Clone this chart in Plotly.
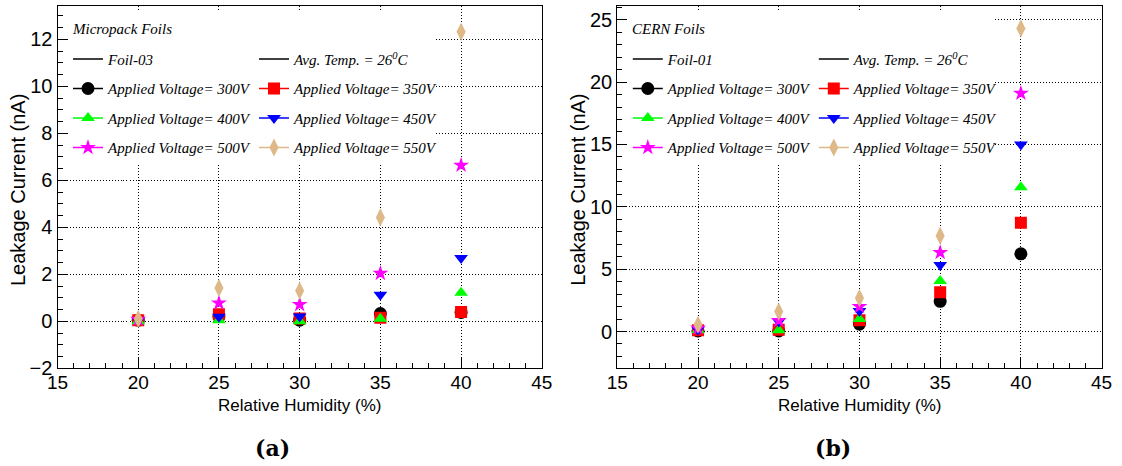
import plotly.graph_objects as go

# ---------------- data ----------------
humidity = [20, 25, 30, 35, 40]
voltage_labels = ["300V", "350V", "400V", "450V", "500V", "550V"]

# Panel (a): Micropack Foils (Foil-03), leakage current in nA
micropack_300v = [0.05, 0.20, 0.05, 0.33, 0.38]
micropack_350v = [0.05, 0.30, 0.12, 0.15, 0.40]
micropack_400v = [0.00, 0.05, 0.00, 0.11, 1.22]
micropack_450v = [0.05, 0.19, 0.20, 1.13, 2.69]
micropack_500v = [0.08, 0.78, 0.71, 2.04, 6.64]
micropack_550v = [0.10, 1.42, 1.30, 4.42, 12.32]

# Panel (b): CERN Foils (Foil-01), leakage current in nA
cern_300v = [0.05, 0.05, 0.60, 2.42, 6.23]
cern_350v = [0.10, 0.15, 0.90, 3.15, 8.73]
cern_400v = [0.10, 0.10, 1.00, 4.05, 11.57]
cern_450v = [0.15, 0.80, 1.65, 5.34, 15.00]
cern_500v = [0.27, 0.88, 2.00, 6.33, 19.10]
cern_550v = [0.54, 1.60, 2.68, 7.68, 24.30]

panel_titles = ["Micropack Foils", "CERN Foils"]
foil_names = ["Foil-03", "Foil-01"]
temperature_label = "Avg. Temp. = 26<sup>0</sup>C"
panel_tags = ["(a)", "(b)"]
x_title = "Relative Humidity (%)"
y_title = "Leakage Current (nA)"
x_range = [15, 45]
y_ranges = [[-2, 13.42], [-2.95, 26.1]]
y_dticks = [2, 5]
y_minor_dticks = [0.5, 1]

series = [
    [micropack_300v, micropack_350v, micropack_400v, micropack_450v, micropack_500v, micropack_550v],
    [cern_300v, cern_350v, cern_400v, cern_450v, cern_500v, cern_550v],
]

# ---------------- styles ----------------
colors = ["#000000", "#FF0000", "#00FF00", "#0000FF", "#FF00FF", "#DEB887"]
symbols = ["circle", "square", "triangle-up", "triangle-down", "star", "diamond-tall"]
sizes = [13, 12, 12, 12, 12, 13]

W, H = 1122, 466
panel_left = [57.5, 617.3]
panel_w = 484.3
plot_top, plot_bottom = 6.0, 368.3
plot_h = plot_bottom - plot_top

SANS = "Liberation Sans, Arial, sans-serif"
SERIF = "Liberation Serif, Times New Roman, serif"

fig = go.Figure()

for p in range(2):
    xa = "x" if p == 0 else "x2"
    ya = "y" if p == 0 else "y2"
    leg_c1 = "legend" if p == 0 else "legend3"
    leg_c2 = "legend2" if p == 0 else "legend4"

    # data markers
    for i in range(6):
        fig.add_trace(go.Scatter(
            x=humidity, y=series[p][i], mode="markers",
            xaxis=xa, yaxis=ya, showlegend=False,
            marker=dict(symbol=symbols[i], size=sizes[i], color=colors[i], line=dict(width=0)),
            name="Applied Voltage= " + voltage_labels[i],
        ))

    # legend entries (ROOT-style line + marker)
    fig.add_trace(go.Scatter(
        x=[None], y=[None], mode="lines", xaxis=xa, yaxis=ya,
        line=dict(color="black", width=1.5), name=foil_names[p],
        legend=leg_c1, legendgroup=f"p{p}h0"))
    fig.add_trace(go.Scatter(
        x=[None], y=[None], mode="lines", xaxis=xa, yaxis=ya,
        line=dict(color="black", width=1.5), name=temperature_label,
        legend=leg_c2, legendgroup=f"p{p}h1"))
    for i in range(6):
        fig.add_trace(go.Scatter(
            x=[None], y=[None], mode="lines+markers", xaxis=xa, yaxis=ya,
            line=dict(color=colors[i], width=1.5),
            marker=dict(symbol=symbols[i], size=sizes[i], color=colors[i], line=dict(width=0)),
            name="Applied Voltage= " + voltage_labels[i],
            legend=leg_c1 if i % 2 == 0 else leg_c2, legendgroup=f"p{p}v{i}"))

legend_common = dict(
    bgcolor="rgba(0,0,0,0)", borderwidth=0,
    font=dict(family=SERIF, size=15, style="italic", color="black"),
    traceorder="grouped", tracegroupgap=7, orientation="v",
    xanchor="left", yanchor="top",
)
legend_top = 42.75
col_x = [68.0, 254.0]
layout_legends = {}
names = [["legend", "legend2"], ["legend3", "legend4"]]
for p in range(2):
    off = panel_left[p] - panel_left[0]
    for c in range(2):
        layout_legends[names[p][c]] = dict(legend_common, x=(col_x[c] + off) / W, y=1 - legend_top / H)

axis_common = dict(
    showline=True, mirror=True, linecolor="black", linewidth=1.2,
    ticks="inside", ticklen=10, tickwidth=1, tickcolor="black",
    showgrid=True, gridcolor="black", gridwidth=1, griddash="1px,2px",
    zeroline=False,
)

y_domain = [1 - plot_bottom / H, 1 - plot_top / H]
layout_axes = {}
for p in range(2):
    sx = "xaxis" if p == 0 else "xaxis2"
    sy = "yaxis" if p == 0 else "yaxis2"
    layout_axes[sx] = dict(axis_common,
                           domain=[panel_left[p] / W, (panel_left[p] + panel_w) / W],
                           range=x_range, dtick=5, tick0=0,
                           anchor="y" if p == 0 else "y2",
                           tickfont=dict(family=SANS, size=19, color="black"),
                           ticklabelstandoff=-3,
                           minor=dict(dtick=1, ticklen=5, ticks="inside", tickcolor="black", showgrid=False))
    layout_axes[sy] = dict(axis_common,
                           domain=y_domain, range=y_ranges[p], dtick=y_dticks[p], tick0=0,
                           anchor="x" if p == 0 else "x2",
                           tickfont=dict(family=SANS, size=20, color="black"),
                           minor=dict(dtick=y_minor_dticks[p], ticklen=5, ticks="inside", tickcolor="black", showgrid=False))

shapes = []
annotations = []
for p in range(2):
    xr = "x" if p == 0 else "x2"
    yr = "y" if p == 0 else "y2"
    xr_d = xr + " domain"
    yr_d = yr + " domain"
    y0r, y1r = y_ranges[p]
    x_span = x_range[1] - x_range[0]
    y_span = y1r - y0r
    # white legend background hiding the grid (between grid and markers)
    shapes.append(dict(type="rect", xref=xr, yref=yr, layer="between",
                       x0=x_range[0], x1=x_range[0] + x_span * (435 - 57.5) / panel_w,
                       y0=y1r - y_span * (163 - plot_top) / plot_h,
                       y1=y1r - y_span * (12 - plot_top) / plot_h,
                       fillcolor="white", line=dict(width=0)))
    # legend header
    annotations.append(dict(xref=xr_d, yref=yr_d, x=(70 - 57.5) / panel_w, y=1 - (29 - plot_top) / plot_h,
                            xanchor="left", yanchor="middle", showarrow=False, text=panel_titles[p],
                            font=dict(family=SERIF, size=15, style="italic", color="black")))
    cx = (panel_left[p] + panel_w / 2) / W
    # x-axis title
    annotations.append(dict(xref="paper", yref="paper", x=cx, y=1 - 405 / H,
                            xanchor="center", yanchor="middle", showarrow=False, text=x_title,
                            font=dict(family=SANS, size=17, color="black")))
    # y-axis title
    annotations.append(dict(xref="paper", yref="paper", x=(18 + panel_left[p] - panel_left[0]) / W, y=1 - 190 / H,
                            xanchor="center", yanchor="middle", showarrow=False, text=y_title, textangle=-90,
                            font=dict(family=SANS, size=20, color="black")))
    # panel tag
    annotations.append(dict(xref="paper", yref="paper", x=(272 + (833 - 272) * p) / W, y=1 - 448 / H,
                            xanchor="center", yanchor="middle", showarrow=False, text="<b>" + panel_tags[p] + "</b>",
                            font=dict(family="DejaVu Serif, serif", size=22, color="black")))

fig.update_layout(
    width=W, height=H,
    margin=dict(l=0, r=0, t=0, b=0, autoexpand=False),
    paper_bgcolor="white", plot_bgcolor="white",
    shapes=shapes, annotations=annotations,
    **layout_axes, **layout_legends,
)

fig.write_html("out.html")
